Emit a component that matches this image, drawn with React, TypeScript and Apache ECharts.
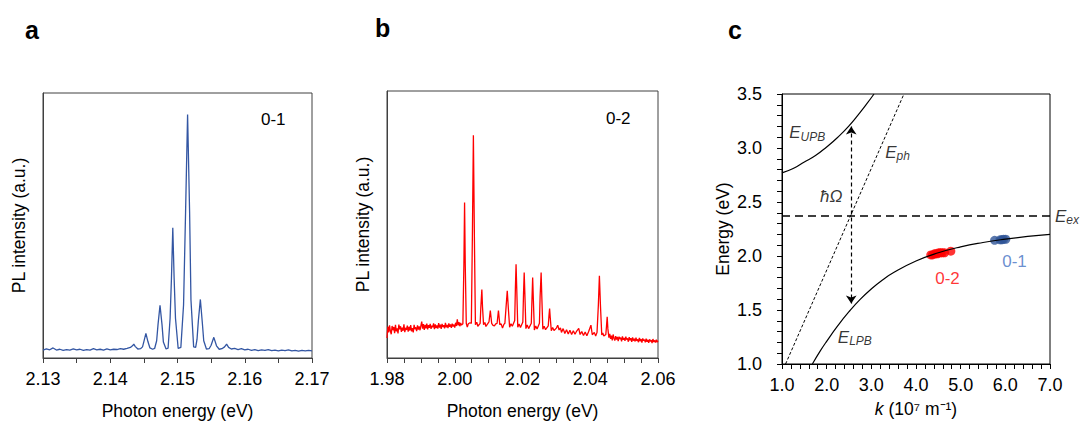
import React, { useEffect, useRef } from "react";
import * as echarts from "echarts";

// ---------- Panel a: PL spectrum, 0-1 (photon energy eV, intensity a.u.) ----------
const spectrum01: [number, number][] = [
  [2.1300, 3.0], [2.1305, 3.4], [2.1310, 3.1], [2.1315, 3.8], [2.1320, 3.0], [2.1325, 3.3],
  [2.1330, 2.9], [2.1335, 3.2], [2.1340, 3.0], [2.1345, 3.4], [2.1350, 3.1], [2.1355, 3.3],
  [2.1360, 2.9], [2.1365, 3.2], [2.1370, 3.0], [2.1375, 3.5], [2.1380, 3.1], [2.1385, 3.3],
  [2.1390, 3.0], [2.1395, 3.4], [2.1400, 3.1], [2.1405, 3.3], [2.1410, 3.2], [2.1415, 3.5],
  [2.1420, 3.3], [2.1425, 3.6], [2.1430, 4.0],
  [2.1433, 4.6], [2.1435, 5.2], [2.1437, 4.4], [2.1441, 3.4], [2.1445, 3.5],
  [2.1448, 4.2], [2.1450, 6.2], [2.1453, 9.3], [2.1456, 6.2], [2.1459, 3.8], [2.1463, 3.3], [2.1466, 3.6],
  [2.1469, 6.5], [2.1471, 12.5], [2.1474, 19.9], [2.1477, 12.5], [2.1479, 6.0], [2.1483, 3.4], [2.1486, 3.7],
  [2.1489, 15.0], [2.1491, 30.0], [2.1493, 49.1], [2.1495, 30.0], [2.1497, 15.0], [2.1501, 3.6], [2.1505, 4.0],
  [2.1509, 20.0], [2.1512, 55.0], [2.1515, 91.9], [2.1518, 55.0], [2.1520, 22.0], [2.1524, 4.2], [2.1527, 4.0],
  [2.1529, 7.0], [2.1531, 14.0], [2.1534, 22.1], [2.1537, 13.0], [2.1539, 6.5], [2.1543, 3.4], [2.1547, 3.5],
  [2.1550, 4.8], [2.1554, 7.8], [2.1558, 4.6], [2.1562, 3.3], [2.1566, 3.5],
  [2.1570, 4.2], [2.1573, 5.2], [2.1576, 4.0], [2.1580, 3.4],
  [2.1585, 3.6], [2.1590, 3.2], [2.1595, 3.5], [2.1600, 3.1], [2.1605, 3.3], [2.1610, 2.9],
  [2.1615, 3.2], [2.1620, 2.8], [2.1625, 3.1], [2.1630, 2.9], [2.1635, 3.2], [2.1640, 2.8],
  [2.1645, 3.0], [2.1650, 2.7], [2.1655, 3.0], [2.1660, 2.8], [2.1665, 3.1], [2.1670, 2.7],
  [2.1675, 2.9], [2.1680, 2.6], [2.1685, 2.9], [2.1690, 2.7], [2.1695, 2.9], [2.1700, 2.7],
];

// ---------- Panel b: PL spectrum, 0-2 ----------
const spectrum02: [number, number][] = [
  [1.98000, 7.5], [1.98025, 11.8], [1.98050, 9.6], [1.98075, 12.2], [1.98100, 10.1], [1.98125, 8.9],
  [1.98150, 12.0], [1.98175, 10.4], [1.98200, 11.6], [1.98225, 9.3], [1.98250, 12.4], [1.98275, 10.0],
  [1.98300, 11.1], [1.98325, 9.2], [1.98350, 12.5], [1.98375, 10.7], [1.98400, 11.9], [1.98425, 9.8],
  [1.98450, 11.4], [1.98475, 10.2], [1.98500, 12.6], [1.98525, 9.7], [1.98550, 11.3], [1.98575, 10.5],
  [1.98600, 12.1], [1.98625, 9.9], [1.98650, 11.7], [1.98675, 10.3], [1.98700, 12.3], [1.98725, 10.0],
  [1.98750, 11.2], [1.98775, 9.6], [1.98800, 12.4], [1.98825, 10.8], [1.98850, 11.5], [1.98875, 10.1],
  [1.98900, 12.2], [1.98925, 10.6], [1.98950, 11.8], [1.98975, 10.4], [1.99000, 12.0], [1.99025, 13.6],
  [1.99050, 11.0], [1.99075, 12.7], [1.99100, 10.5], [1.99125, 12.4], [1.99150, 11.1], [1.99175, 12.9],
  [1.99200, 10.7], [1.99225, 12.3], [1.99250, 11.3], [1.99275, 12.8], [1.99300, 10.9], [1.99325, 12.1],
  [1.99350, 11.5], [1.99375, 13.0], [1.99400, 10.8], [1.99425, 12.6], [1.99450, 11.2], [1.99475, 12.2],
  [1.99500, 11.0], [1.99525, 13.1], [1.99550, 11.4], [1.99575, 12.5], [1.99600, 10.9], [1.99625, 12.8],
  [1.99650, 11.6], [1.99675, 12.3], [1.99700, 11.1], [1.99725, 13.2], [1.99750, 11.5], [1.99775, 12.4],
  [1.99800, 11.2], [1.99825, 13.0], [1.99850, 11.7], [1.99875, 12.6], [1.99900, 11.3], [1.99925, 12.9],
  [1.99950, 11.8], [1.99975, 12.5], [2.00000, 11.4], [2.00025, 13.2], [2.00050, 12.0], [2.00075, 14.5],
  [2.00100, 12.2], [2.00125, 13.4], [2.00150, 11.9], [2.00175, 13.1], [2.00200, 12.3], [2.0024, 12.8],
  [2.0027, 35.0], [2.0029, 58.2], [2.0031, 35.0], [2.0034, 13.0], [2.0037, 11.6], [2.0040, 12.8], [2.0045, 13.2],
  [2.0049, 13.0], [2.0052, 45.0], [2.0055, 83.4], [2.0058, 45.0], [2.0061, 12.5], [2.0065, 13.4], [2.0068, 11.9],
  [2.0075, 13.0], [2.0077, 19.0], [2.0080, 25.6], [2.0082, 19.0], [2.0085, 12.5], [2.0089, 13.3], [2.0092, 11.8],
  [2.0097, 12.8], [2.0101, 13.5], [2.0105, 17.8], [2.0109, 13.0], [2.0113, 12.2], [2.0117, 12.0],
  [2.0121, 12.8], [2.0125, 13.0], [2.0129, 17.8], [2.0133, 12.5], [2.0137, 12.8], [2.0141, 11.2],
  [2.0145, 12.6], [2.0148, 13.0], [2.0152, 20.0], [2.0155, 25.2], [2.0158, 19.0], [2.0162, 11.5], [2.0166, 12.8], [2.0170, 11.9],
  [2.0177, 14.0], [2.0179, 26.0], [2.0181, 35.1], [2.0183, 26.0], [2.0186, 11.5], [2.0190, 12.7], [2.0194, 11.4],
  [2.0201, 13.5], [2.0203, 24.0], [2.0205, 32.0], [2.0207, 24.0], [2.0210, 11.0], [2.0214, 12.4], [2.0218, 11.0],
  [2.0226, 13.0], [2.0228, 22.0], [2.0230, 30.1], [2.0232, 22.0], [2.0235, 10.5], [2.0239, 12.0], [2.0243, 10.9],
  [2.0250, 13.0], [2.0252, 23.0], [2.0255, 32.0], [2.0257, 23.0], [2.0260, 10.8], [2.0264, 11.9], [2.0268, 10.6],
  [2.0276, 12.0], [2.0278, 15.5], [2.0280, 18.5], [2.0282, 15.0], [2.0285, 10.2], [2.0289, 11.4], [2.0293, 10.3],
  [2.0300, 11.2], [2.0304, 12.3], [2.0308, 10.5], [2.0312, 11.3], [2.0315, 9.6], [2.0320, 11.0], [2.0325, 9.2],
  [2.0330, 10.6], [2.0335, 9.0], [2.0340, 10.4], [2.0345, 8.8], [2.0350, 10.2], [2.0355, 8.9],
  [2.0360, 10.1], [2.0366, 11.1], [2.0370, 8.8], [2.0375, 9.9], [2.0380, 8.4], [2.0385, 9.7],
  [2.0390, 8.3], [2.0395, 9.8], [2.0402, 12.3], [2.0406, 8.7], [2.0412, 9.6], [2.0416, 8.2], [2.0420, 9.6],
  [2.0424, 20.0], [2.0427, 30.8], [2.0430, 20.0], [2.0434, 8.6], [2.0437, 9.4], [2.0440, 8.2], [2.0446, 8.8],
  [2.0448, 12.0], [2.0450, 15.4], [2.0452, 11.0],
  [2.04550, 7.6], [2.04575, 9.0], [2.04600, 7.2], [2.04625, 8.4], [2.04650, 6.6], [2.04675, 8.8],
  [2.04700, 7.4], [2.04725, 6.5], [2.04750, 8.2], [2.04775, 6.9], [2.04800, 7.9], [2.04825, 6.3],
  [2.04850, 8.0], [2.04875, 7.1], [2.04900, 7.6], [2.04925, 6.2], [2.04950, 8.1], [2.04975, 6.8],
  [2.05000, 7.5], [2.05025, 6.4], [2.05050, 8.0], [2.05075, 6.9], [2.05100, 7.3], [2.05125, 6.1],
  [2.05150, 7.8], [2.05175, 6.6], [2.05200, 7.4], [2.05225, 6.0], [2.05250, 7.7], [2.05275, 6.5],
  [2.05300, 7.2], [2.05325, 6.2], [2.05350, 7.6], [2.05375, 6.4], [2.05400, 7.0], [2.05425, 5.9],
  [2.05450, 7.5], [2.05475, 6.3], [2.05500, 7.1], [2.05525, 5.8], [2.05550, 7.3], [2.05575, 6.5],
  [2.05600, 6.9], [2.05625, 5.9], [2.05650, 7.2], [2.05675, 6.1], [2.05700, 6.8], [2.05725, 5.7],
  [2.05750, 7.0], [2.05775, 6.2], [2.05800, 6.7], [2.05825, 5.6], [2.05850, 7.1], [2.05875, 6.0],
  [2.05900, 6.6], [2.05925, 5.8], [2.05950, 6.9], [2.05975, 5.9], [2.06000, 6.5],
];

// ---------- Panel c: dispersion (k in 1e7 m^-1, energy eV) ----------
const upperBranch: [number, number][] = [
  [1.0, 2.77], [1.25, 2.81], [1.5, 2.87], [1.75, 2.93], [2.0, 3.01], [2.25, 3.10],
  [2.5, 3.205], [2.75, 3.33], [2.9, 3.41], [3.06, 3.5],
];
const lowerBranch: [number, number][] = [
  [1.68, 1.0], [1.85, 1.117], [2.0, 1.21], [2.25, 1.355], [2.5, 1.484], [2.75, 1.598],
  [3.0, 1.695], [3.25, 1.778], [3.5, 1.847], [4.0, 1.954], [4.5, 2.03], [5.0, 2.085],
  [5.5, 2.125], [6.0, 2.156], [6.5, 2.181], [7.0, 2.2],
];
const photonLine: [number, number][] = [[1.08, 1.0], [3.73, 3.5]];
const excitonLine: [number, number][] = [[1.0, 2.37], [7.0, 2.37]];
const rabiArrow: [number, number][] = [[2.55, 3.2], [2.55, 1.56]];
const points02: [number, number][] = [
  [4.33, 2.01], [4.37, 2.01], [4.41, 2.02], [4.44, 2.02], [4.48, 2.02], [4.51, 2.03],
  [4.55, 2.03], [4.59, 2.03], [4.64, 2.03], [4.78, 2.045],
];
const points01: [number, number][] = [
  [5.76, 2.145], [5.88, 2.15], [5.92, 2.15], [5.96, 2.155], [6.01, 2.155],
];
const annotationText = ["{e|E}{s|UPB}", "{e|E}{s|ph}", "{o|ħΩ}", "{e|E}{s|ex}", "{e|E}{s|LPB}", "0-2", "0-1"];
const annotationAt: [number, number][] = [
  [1.16, 3.14], [3.31, 2.96], [1.85, 2.55], [7.11, 2.37], [2.25, 1.25], [4.43, 1.79], [5.93, 1.95],
];
const annotationColor = ["#000", "#000", "#000", "#000", "#000", "#ff0000", "#4472c4"];

const FONT = "'Liberation Sans', Arial, Helvetica, sans-serif";
const FRAME = "#404040";

function App() {
  const ref = useRef<HTMLDivElement>(null);

  useEffect(() => {
    if (!ref.current) return;
    const chart = echarts.init(ref.current, undefined, { renderer: "svg" });
    const txt = { color: "#000", fontSize: 18, fontFamily: FONT };
    const nameTxt = { color: "#000", fontSize: 17.5, fontFamily: FONT };
    const tick = (c: string) => ({ show: true, inside: false, length: 5, lineStyle: { color: c, width: 1 } });
    const minor = (c: string, n: number) => ({ show: true, splitNumber: n, length: 5, lineStyle: { color: c, width: 1 } });

    const specX = (idx: number, min: number, max: number, interval: number, n: number) => ({
      gridIndex: idx, type: "value", min, max, interval,
      axisLine: { show: true, onZero: false, lineStyle: { color: FRAME, width: 1 } },
      axisTick: tick(FRAME), minorTick: minor(FRAME, n),
      splitLine: { show: false }, minorSplitLine: { show: false },
      axisLabel: { ...txt, margin: 12, formatter: (v: number) => v.toFixed(2) },
      name: "Photon energy (eV)", nameLocation: "middle", nameGap: 44, nameTextStyle: nameTxt,
    });
    const specY = (idx: number) => ({
      gridIndex: idx, type: "value", min: 0, max: 100,
      axisLine: { show: true, lineStyle: { color: FRAME, width: 1 } },
      axisTick: { show: false }, axisLabel: { show: false }, splitLine: { show: false },
      name: "PL intensity (a.u.)", nameLocation: "middle", nameGap: 15, nameTextStyle: nameTxt,
    });

    const richE = {
      e: { fontStyle: "italic", fontSize: 17, fontFamily: FONT, color: "#000", lineHeight: 20 },
      s: { fontStyle: "italic", fontSize: 12, fontFamily: FONT, color: "#000", lineHeight: 10, verticalAlign: "bottom" },
      o: { fontStyle: "italic", fontSize: 17, fontFamily: FONT, color: "#000", lineHeight: 20 },
    };

    chart.setOption({
      animation: false,
      backgroundColor: "#fff",
      grid: [
        { left: 43, top: 93, width: 269, height: 269, show: true, borderColor: FRAME, borderWidth: 1 },
        { left: 387, top: 91, width: 271, height: 271, show: true, borderColor: FRAME, borderWidth: 1 },
        { left: 782, top: 94, width: 268, height: 270, show: true, borderColor: "#000", borderWidth: 1 },
      ],
      xAxis: [
        specX(0, 2.13, 2.17, 0.01, 2),
        specX(1, 1.98, 2.06, 0.02, 4),
        {
          gridIndex: 2, type: "value", min: 1, max: 7, interval: 1,
          axisLine: { show: true, onZero: false, lineStyle: { color: "#000", width: 1 } },
          axisTick: tick("#000"), minorTick: minor("#000", 5),
          splitLine: { show: false }, minorSplitLine: { show: false },
          axisLabel: { ...txt, margin: 12, formatter: (v: number) => v.toFixed(1) },
          name: "{i|k} (10⁷ m⁻¹)", nameLocation: "middle", nameGap: 36,
          nameTextStyle: { ...nameTxt, rich: { i: { ...nameTxt, fontStyle: "italic" } } },
        },
      ],
      yAxis: [
        specY(0),
        specY(1),
        {
          gridIndex: 2, type: "value", min: 1, max: 3.5, interval: 0.5,
          axisLine: { show: true, onZero: false, lineStyle: { color: "#000", width: 1 } },
          axisTick: tick("#000"), minorTick: minor("#000", 5),
          splitLine: { show: false }, minorSplitLine: { show: false },
          axisLabel: { ...txt, margin: 20, formatter: (v: number) => v.toFixed(1) },
          name: "Energy (eV)", nameLocation: "middle", nameGap: 50, nameTextStyle: nameTxt,
        },
      ],
      graphic: [
        { type: "text", left: 25, top: 17, style: { text: "a", font: `bold 25px ${FONT}`, fill: "#000" } },
        { type: "text", left: 375, top: 15, style: { text: "b", font: `bold 25px ${FONT}`, fill: "#000" } },
        { type: "text", left: 728, top: 17, style: { text: "c", font: `bold 25px ${FONT}`, fill: "#000" } },
        { type: "text", left: 261, top: 111, style: { text: "0-1", font: `17px ${FONT}`, fill: "#000" } },
        { type: "text", left: 606, top: 110, style: { text: "0-2", font: `17px ${FONT}`, fill: "#000" } },
      ],
      series: [
        {
          name: "0-1 spectrum", type: "line", xAxisIndex: 0, yAxisIndex: 0, data: spectrum01,
          showSymbol: false, lineStyle: { color: "#3356a3", width: 1.3 }, silent: true,
        },
        {
          name: "0-2 spectrum", type: "line", xAxisIndex: 1, yAxisIndex: 1, data: spectrum02,
          showSymbol: false, lineStyle: { color: "#ff0000", width: 1.3 }, silent: true,
        },
        {
          name: "E_UPB", type: "line", xAxisIndex: 2, yAxisIndex: 2, data: upperBranch, smooth: true,
          showSymbol: false, lineStyle: { color: "#000", width: 1.2 }, silent: true,
        },
        {
          name: "E_LPB", type: "line", xAxisIndex: 2, yAxisIndex: 2, data: lowerBranch, smooth: true,
          showSymbol: false, lineStyle: { color: "#000", width: 1.2 }, silent: true,
        },
        {
          name: "E_ph", type: "line", xAxisIndex: 2, yAxisIndex: 2, data: photonLine,
          showSymbol: false, lineStyle: { color: "#000", width: 1, type: [3, 2] }, silent: true,
        },
        {
          name: "E_ex", type: "line", xAxisIndex: 2, yAxisIndex: 2, data: excitonLine,
          showSymbol: false, lineStyle: { color: "#000", width: 1.4, type: [8, 5] }, silent: true,
        },
        {
          name: "Rabi", type: "line", xAxisIndex: 2, yAxisIndex: 2, data: [], silent: true,
          markLine: {
            silent: true, symbol: ["arrow", "arrow"], symbolSize: 8, label: { show: false },
            lineStyle: { color: "#000", width: 1.2, type: [4, 3] },
            data: [[{ coord: rabiArrow[0] }, { coord: rabiArrow[1] }]],
          },
        },
        {
          name: "0-2 points", type: "scatter", xAxisIndex: 2, yAxisIndex: 2, data: points02,
          symbolSize: 9, itemStyle: { color: "#ff0000" }, silent: true,
        },
        {
          name: "0-1 points", type: "scatter", xAxisIndex: 2, yAxisIndex: 2, data: points01,
          symbolSize: 9, itemStyle: { color: "#2f5597" }, silent: true,
        },
        {
          name: "labels", type: "scatter", xAxisIndex: 2, yAxisIndex: 2, clip: false, silent: true,
          symbolSize: 0,
          data: annotationAt.map((p, i) => ({
            value: p,
            label: {
              show: true, position: "right", distance: 0,
              formatter: annotationText[i],
              color: annotationColor[i], fontSize: 17, fontFamily: FONT,
              rich: richE,
            },
          })),
        },
      ],
    });
    return () => chart.dispose();
  }, []);

  return (
    <div
      ref={ref}
      style={{ position: "absolute", left: 0, top: 0, width: 1080, height: 425, background: "#fff" }}
    />
  );
}

export default App;
